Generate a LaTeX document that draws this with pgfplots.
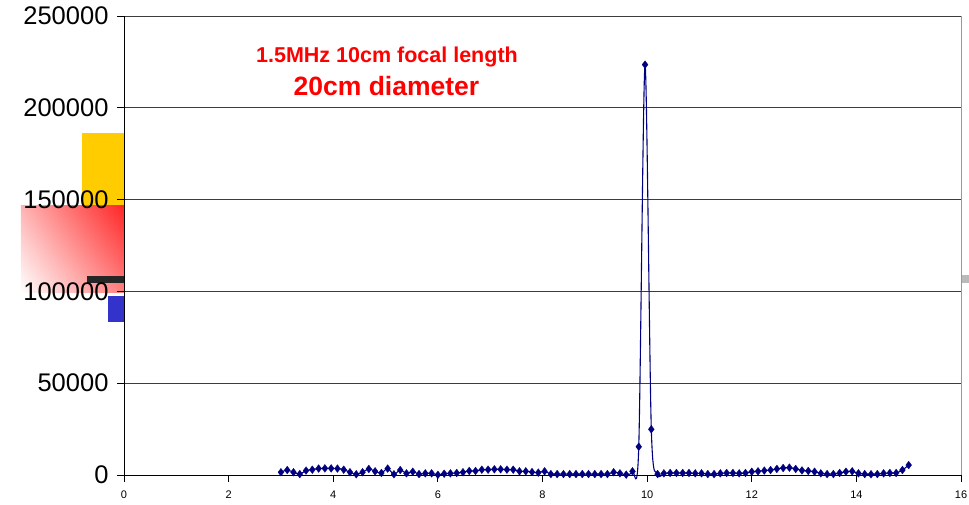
\documentclass[border=0pt]{standalone}
\usepackage{fontspec}
\setmainfont{Liberation Sans}
\usepackage{pgfplots}
\pgfplotsset{compat=1.18}
\usepackage{pgfplotstable}
\usetikzlibrary{shadings}

\definecolor{linenavy}{RGB}{0,0,128}
\definecolor{boxyellow}{RGB}{255,204,0}
\definecolor{boxblue}{RGB}{51,51,204}
\definecolor{gridgray}{RGB}{60,60,60}

% axial pressure profile, x in cm
\pgfplotstableread{
x y
3.00 1500
3.12 2700
3.24 1500
3.36 500
3.48 2400
3.60 2900
3.72 3500
3.84 3600
3.96 3600
4.08 3500
4.20 2900
4.32 1500
4.44 400
4.56 1500
4.68 3300
4.80 2000
4.92 1100
5.04 3500
5.16 400
5.28 2700
5.40 900
5.52 1800
5.64 500
5.76 900
5.88 900
6.00 100
6.12 700
6.24 900
6.36 1100
6.48 1500
6.60 2200
6.72 2200
6.84 2900
6.96 2900
7.08 3100
7.20 3100
7.32 2900
7.44 2900
7.56 2000
7.68 2000
7.80 1600
7.92 1300
8.04 2000
8.16 500
8.28 500
8.40 500
8.52 500
8.64 500
8.76 500
8.88 500
9.00 500
9.12 500
9.24 500
9.36 1500
9.48 900
9.60 200
9.72 2000
9.84 15400
9.96 223500
10.08 24900
10.20 500
10.32 900
10.44 1100
10.56 1100
10.68 1100
10.80 1100
10.92 900
11.04 900
11.16 500
11.28 500
11.40 900
11.52 1100
11.64 1100
11.76 900
11.88 1100
12.00 1800
12.12 2000
12.24 2400
12.36 2700
12.48 3300
12.60 3800
12.72 4000
12.84 3300
12.96 2500
13.08 2200
13.20 1800
13.32 900
13.44 500
13.56 500
13.68 1100
13.80 1800
13.92 2000
14.04 900
14.16 500
14.28 400
14.40 500
14.52 900
14.64 1100
14.76 1100
14.88 2700
15.00 5400
}\profile

\begin{document}
\begin{tikzpicture}[x=1pt,y=1pt]
\path[use as bounding box] (-124,-30) rectangle (845,475);

% coloured blocks at the left edge
\fill[boxyellow] (-42,269) rectangle (0,342);
\shade[upper left=red!30, upper right=red!85, lower left=white, lower right=red!50]
  (-103,182) rectangle (0,269);
\fill[black!85] (-37,192) rectangle (0,199);
\fill[boxblue] (-16,153) rectangle (0,179);
\fill[black!27] (837,192) rectangle (845,200);

\begin{axis}[
  at={(0,0)}, anchor=south west,
  scale only axis,
  width=837pt, height=459pt,
  xmin=0, xmax=16, ymin=0, ymax=250000,
  xtick={0,2,...,16},
  ytick={0,50000,100000,150000,200000,250000},
  scaled y ticks=false,
  axis x line*=bottom,
  axis y line*=left,
  axis line style={black, line width=0.8pt},
  tick align=outside,
  major tick length=7pt,
  tick style={black, line width=0.8pt},
  ymajorgrids,
  grid style={gridgray, line width=0.7pt},
  /pgf/number format/assume math mode=true,
  yticklabel style={font=\fontsize{25.5}{30}\selectfont, xshift=-5pt,
    /pgf/number format/fixed, /pgf/number format/set thousands separator={}},
  xticklabel style={font=\fontsize{11}{12}\selectfont, yshift=-5pt},
  clip=false,
]
\addplot[linenavy, line width=1.1pt, smooth, tension=0.5,
  mark=diamond*, mark size=3.9pt, mark options={fill=linenavy, draw=linenavy, line width=0.3pt}]
  table[x=x, y=y] {\profile};
\draw[black!40, line width=1pt] (axis cs:16,0) -- (axis cs:16,250000);
\end{axis}

% title
\node[anchor=base, text=red, font=\bfseries\fontsize{21.5}{24}\selectfont, inner sep=0pt]
  at (263,412) {1.5MHz 10cm focal length};
\node[anchor=base, text=red, font=\bfseries\fontsize{26.5}{30}\selectfont, inner sep=0pt]
  at (262.5,379) {20cm diameter};
\end{tikzpicture}
\end{document}
